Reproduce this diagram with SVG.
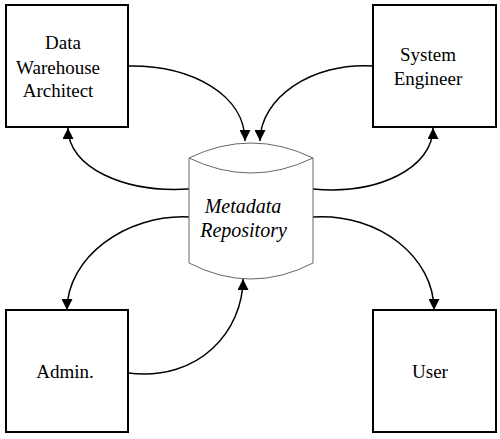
<svg xmlns="http://www.w3.org/2000/svg" width="500" height="439" viewBox="0 0 500 439">
<style>
.box{fill:#fff;stroke:#000;stroke-width:2}
.cyl{fill:#fff;stroke:#666;stroke-width:1}
text{font-family:'Liberation Serif','Times New Roman','DejaVu Serif',serif;font-size:19px;fill:#000;text-anchor:middle}
.it{font-style:italic;font-size:20px}
.edge{fill:none;stroke:#000;stroke-width:1.5}
</style>
<defs>
<marker id="ah" viewBox="0 0 10 10" refX="10" refY="5" markerWidth="11" markerHeight="11" markerUnits="userSpaceOnUse" orient="auto">
<path d="M0,0 L10,5 L0,10 z" fill="#000"/>
</marker>
</defs>
<rect width="500" height="439" fill="#fff"/>
<g id="connectors">
<path class="edge" d="M128,66 C192,65 245,95 245,141" marker-end="url(#ah)"/>
<path class="edge" d="M189,189 C125,193 68,168 68,128" marker-end="url(#ah)"/>
<path class="edge" d="M373,66 C312,62 260,98 260,141" marker-end="url(#ah)"/>
<path class="edge" d="M313,189 C378,195 433,168 433,128" marker-end="url(#ah)"/>
<path class="edge" d="M189,217 C125,214 67,258 67,310" marker-end="url(#ah)"/>
<path class="edge" d="M313,217 C380,213 434,258 434,310" marker-end="url(#ah)"/>
<path class="edge" d="M128,373 C200,382 243,330 243,279" marker-end="url(#ah)"/>
</g>
<g id="dwa">
<rect class="box" x="6" y="5" width="122" height="122"/>
<text x="63" y="49" font-family="Liberation Serif, serif">Data</text>
<text x="58" y="74" font-family="Liberation Serif, serif">Warehouse</text>
<text x="58" y="97" font-family="Liberation Serif, serif">Architect</text>
</g>
<g id="se">
<rect class="box" x="373" y="5" width="123" height="122"/>
<text x="428" y="61" font-family="Liberation Serif, serif">System</text>
<text x="428" y="85" font-family="Liberation Serif, serif">Engineer</text>
</g>
<g id="admin">
<rect class="box" x="6" y="310" width="122" height="122"/>
<text x="65" y="378" font-family="Liberation Serif, serif">Admin.</text>
</g>
<g id="user">
<rect class="box" x="373" y="310" width="123" height="122"/>
<text x="430" y="378" font-family="Liberation Serif, serif">User</text>
</g>
<g id="repository">
<path class="cyl" d="M189,158 Q251,128 313,158 L313,263 Q251,295 189,263 Z"/>
<path class="cyl" d="M189,158 Q251,188 313,158" fill="none"/>
<text class="it" x="243" y="213" font-family="Liberation Serif, serif">Metadata</text>
<text class="it" x="243.5" y="237" font-family="Liberation Serif, serif">Repository</text>
</g>
</svg>
